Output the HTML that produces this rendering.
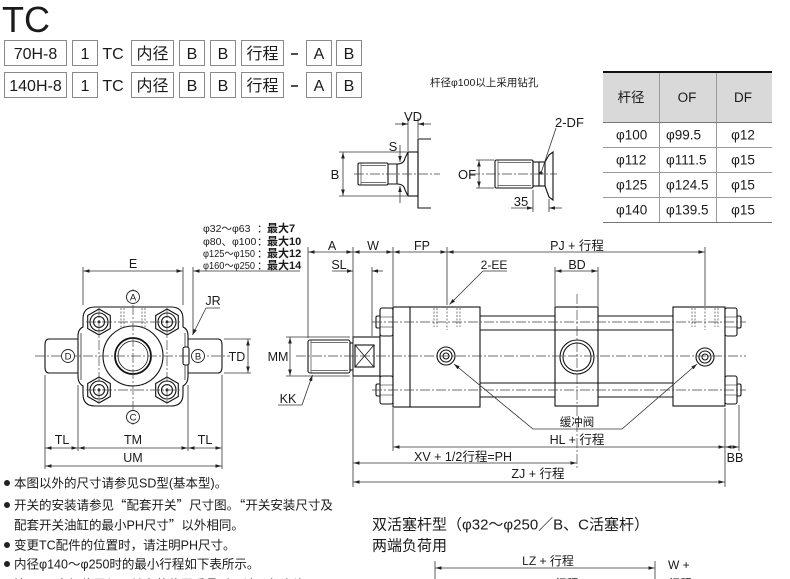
<!DOCTYPE html>
<html><head><meta charset="utf-8"><title>TC</title>
<style>
html,body{margin:0;padding:0;background:#fff;width:790px;height:579px;overflow:hidden}
svg{display:block}
text{font-family:"Liberation Sans","Noto Sans CJK SC",sans-serif;fill:#1a1a1a}
.cj{font-family:"Noto Sans CJK SC",sans-serif}
</style></head><body>
<svg width="790" height="579" viewBox="0 0 790 579" xmlns="http://www.w3.org/2000/svg">
<defs>
<marker id="a" viewBox="0 0 10 6" refX="10" refY="3" markerWidth="7" markerHeight="3.6" orient="auto-start-reverse" markerUnits="userSpaceOnUse"><path d="M0,0L10,3L0,6z" fill="#222"/></marker>
</defs>

<!-- ===== Header ===== -->
<text x="2" y="32" font-size="36">TC</text>
<g fill="#fff" stroke="#8a8a8a" stroke-width="1">
<rect x="4.5" y="40.5" width="62" height="25"/><rect x="72.5" y="40.5" width="25" height="25"/>
<rect x="131.5" y="40.5" width="42" height="25"/><rect x="179.5" y="40.5" width="25" height="25"/>
<rect x="210.5" y="40.5" width="25" height="25"/><rect x="241.5" y="40.5" width="42" height="25"/>
<rect x="306.5" y="40.5" width="25" height="25"/><rect x="336.5" y="40.5" width="25" height="25"/>
<rect x="4.5" y="72.5" width="62" height="25"/><rect x="72.5" y="72.5" width="25" height="25"/>
<rect x="131.5" y="72.5" width="42" height="25"/><rect x="179.5" y="72.5" width="25" height="25"/>
<rect x="210.5" y="72.5" width="25" height="25"/><rect x="241.5" y="72.5" width="42" height="25"/>
<rect x="306.5" y="72.5" width="25" height="25"/><rect x="336.5" y="72.5" width="25" height="25"/>
</g>
<g font-size="16" text-anchor="middle">
<text x="35.5" y="59">70H-8</text><text x="85" y="59">1</text><text x="113" y="59">TC</text>
<text x="152.5" y="59">内径</text><text x="192" y="59">B</text><text x="223" y="59">B</text>
<text x="262.5" y="59">行程</text><text x="319" y="59">A</text><text x="349" y="59">B</text>
<text x="35.5" y="91">140H-8</text><text x="85" y="91">1</text><text x="113" y="91">TC</text>
<text x="152.5" y="91">内径</text><text x="192" y="91">B</text><text x="223" y="91">B</text>
<text x="262.5" y="91">行程</text><text x="319" y="91">A</text><text x="349" y="91">B</text>
</g>
<line x1="291" y1="54" x2="298" y2="54" stroke="#222" stroke-width="1.6"/>
<line x1="291" y1="86" x2="298" y2="86" stroke="#222" stroke-width="1.6"/>

<!-- ===== Table ===== -->
<rect x="603" y="72" width="169" height="50" fill="#d9d9d9"/>
<g stroke="#9a9a9a" stroke-width="1">
<line x1="659.5" y1="73" x2="659.5" y2="222"/><line x1="716.5" y1="73" x2="716.5" y2="222"/>
<line x1="603" y1="122.5" x2="772" y2="122.5" stroke="#777"/>
<line x1="603" y1="147.5" x2="772" y2="147.5"/><line x1="603" y1="172.5" x2="772" y2="172.5"/>
<line x1="603" y1="197.5" x2="772" y2="197.5"/><line x1="603" y1="222.5" x2="772" y2="222.5" stroke="#777"/>
</g>
<line x1="603" y1="72" x2="772" y2="72" stroke="#111" stroke-width="2"/>
<g font-size="13.5">
<text x="631" y="102" text-anchor="middle">杆径</text><text x="687" y="102" text-anchor="middle">OF</text><text x="743" y="102" text-anchor="middle">DF</text>
<text x="616" y="139.5">φ100</text><text x="666" y="139.5">φ99.5</text><text x="743" y="139.5" text-anchor="middle">φ12</text>
<text x="616" y="164.5">φ112</text><text x="666" y="164.5">φ111.5</text><text x="743" y="164.5" text-anchor="middle">φ15</text>
<text x="616" y="189.5">φ125</text><text x="666" y="189.5">φ124.5</text><text x="743" y="189.5" text-anchor="middle">φ15</text>
<text x="616" y="214.5">φ140</text><text x="666" y="214.5">φ139.5</text><text x="743" y="214.5" text-anchor="middle">φ15</text>
</g>

<!-- ===== Top middle small drawings ===== -->
<text x="430" y="86" font-size="10.5">杆径φ100以上采用钻孔</text>
<g stroke="#111" stroke-width="1.1" fill="#fff">
<rect x="358" y="163" width="30" height="22" rx="1.5"/>
<path d="M388,164 H397 Q404,164 405,158 L408,152 M388,184 H397 Q404,184 405,190 L408,196" fill="none"/>
<line x1="397" y1="164" x2="397" y2="184"/>
<rect x="408" y="152" width="10" height="44"/>
<path d="M431,139 H418 V208 H431" fill="none"/>
<rect x="495" y="160" width="38" height="28" rx="1.5"/>
<rect x="533" y="162" width="12" height="24"/>
<line x1="539" y1="162" x2="539" y2="186"/>
<polygon points="545,162 549,155 553,152 553,200 549,197 545,186"/>
</g>
<path d="M361,165.5 H386 M361,182.5 H386 M361,163 V185 M498,162.5 H531 M498,185.5 H531 M498,160 V188" stroke="#444" stroke-width="0.7" fill="none"/>
<circle cx="541" cy="173" r="1.6" fill="#222"/>
<g stroke="#444" stroke-width="0.7" stroke-dasharray="10 2 2 2" fill="none">
<line x1="354" y1="174" x2="440" y2="174"/><line x1="470" y1="174" x2="557" y2="174"/>
</g>
<g stroke="#333" stroke-width="0.8" fill="none">
<line x1="339" y1="152" x2="407" y2="152"/><line x1="339" y1="196" x2="407" y2="196"/>
<line x1="343" y1="152.5" x2="343" y2="195.5" marker-start="url(#a)" marker-end="url(#a)"/>
<line x1="400" y1="145" x2="400" y2="162" marker-end="url(#a)"/>
<line x1="400" y1="203" x2="400" y2="186" marker-end="url(#a)"/>
<line x1="408" y1="118" x2="408" y2="151"/><line x1="418" y1="118" x2="418" y2="138"/>
<line x1="395" y1="124" x2="408" y2="124" marker-end="url(#a)"/>
<line x1="431" y1="124" x2="418" y2="124" marker-end="url(#a)"/>
<line x1="476" y1="160" x2="494" y2="160"/><line x1="476" y1="188" x2="494" y2="188"/>
<line x1="479" y1="160.5" x2="479" y2="187.5" marker-start="url(#a)" marker-end="url(#a)"/>
<line x1="556" y1="128" x2="541.5" y2="171.5"/>
<line x1="533" y1="190" x2="533" y2="212"/><line x1="549" y1="199" x2="549" y2="212"/>
<line x1="511" y1="208" x2="533" y2="208" marker-end="url(#a)"/>
<line x1="562" y1="208" x2="549" y2="208" marker-end="url(#a)"/>
</g>
<g font-size="13">
<text x="335" y="179" text-anchor="middle">B</text>
<text x="393" y="151" text-anchor="middle">S</text>
<text x="413" y="121" text-anchor="middle">VD</text>
<text x="467" y="179" text-anchor="middle">OF</text>
<text x="555" y="127">2-DF</text>
<text x="521" y="206" text-anchor="middle">35</text>
</g>

<!-- ===== Left end view ===== -->
<g font-size="10.5">
<text x="203" y="232">φ32～φ63</text>
<text x="203" y="245">φ80、φ100</text>
<text x="203" y="257" textLength="52" lengthAdjust="spacingAndGlyphs">φ125～φ150</text>
<text x="203" y="269" textLength="52" lengthAdjust="spacingAndGlyphs">φ160～φ250</text>
<text x="257" y="232">：</text><text x="257" y="245">：</text><text x="257" y="257">：</text><text x="257" y="269">：</text>
<g font-weight="bold" font-size="11">
<text x="267" y="232">最大7</text><text x="267" y="245">最大10</text><text x="267" y="257">最大12</text><text x="267" y="269">最大14</text>
</g>
</g>
<g stroke="#111" stroke-width="1.1" fill="#fff">
<path d="M80,339 H49 Q45,339 45,345 V367 Q45,373 49,373 H80 Z"/>
<path d="M186,339 H218 Q222,339 222,345 V367 Q222,373 218,373 H186 Z"/>
<path d="M95,307 H171 Q183,307 183,319 V327 Q188,329 188,336 V377 Q188,383 183,386 V394 Q183,406 171,406 H95 Q83,406 83,394 V386 Q78,383 78,377 V336 Q78,329 83,327 V319 Q83,307 95,307 Z"/>
<line x1="81" y1="333" x2="81" y2="380" stroke-width="0.7"/>
<line x1="185" y1="333" x2="185" y2="380" stroke-width="0.7"/>
<circle cx="133" cy="356" r="30"/>
<circle cx="133" cy="356" r="18" stroke-width="1.8"/>
<circle cx="133" cy="356" r="15" stroke-width="0.8"/>
<polygon points="99,309 110.3,315.5 110.3,328.5 99,335 87.7,328.5 87.7,315.5"/>
<polygon points="167,309 178.3,315.5 178.3,328.5 167,335 155.7,328.5 155.7,315.5"/>
<polygon points="99,377 110.3,383.5 110.3,396.5 99,403 87.7,396.5 87.7,383.5"/>
<polygon points="167,377 178.3,383.5 178.3,396.5 167,403 155.7,396.5 155.7,383.5"/>
<circle cx="99" cy="322" r="9"/><circle cx="167" cy="322" r="9"/><circle cx="99" cy="390" r="9"/><circle cx="167" cy="390" r="9"/>
<circle cx="99" cy="322" r="5.5"/><circle cx="167" cy="322" r="5.5"/><circle cx="99" cy="390" r="5.5"/><circle cx="167" cy="390" r="5.5"/>
<rect x="183" y="347" width="6" height="18" rx="2"/>
</g>
<g fill="#222"><circle cx="99" cy="322" r="1.5"/><circle cx="167" cy="322" r="1.5"/><circle cx="99" cy="390" r="1.5"/><circle cx="167" cy="390" r="1.5"/></g>
<g stroke="#444" stroke-width="0.7" stroke-dasharray="2 1.5" fill="none">
<line x1="121" y1="308" x2="121" y2="328"/><line x1="124" y1="308" x2="124" y2="328"/>
<line x1="142" y1="308" x2="142" y2="328"/><line x1="145" y1="308" x2="145" y2="328"/>
</g>
<g stroke="#444" stroke-width="0.7" stroke-dasharray="10 2 2 2" fill="none">
<line x1="35" y1="356" x2="230" y2="356"/><line x1="133" y1="289" x2="133" y2="425"/>
<line x1="86" y1="322" x2="180" y2="322"/><line x1="86" y1="390" x2="180" y2="390"/>
<line x1="99" y1="308" x2="99" y2="404"/><line x1="167" y1="308" x2="167" y2="404"/>
</g>
<g stroke="#222" stroke-width="0.9" fill="#fff">
<circle cx="133" cy="297" r="6.5"/><circle cx="133" cy="417" r="6.5"/>
<circle cx="68" cy="356" r="6.5"/><circle cx="198" cy="356" r="6.5"/>
</g>
<g font-size="9.5" text-anchor="middle">
<text x="133" y="300.5">A</text><text x="133" y="420.5">C</text><text x="68" y="359.5">D</text><text x="198" y="359.5">B</text>
</g>
<g stroke="#333" stroke-width="0.8" fill="none">
<line x1="83" y1="267" x2="83" y2="305"/><line x1="183" y1="267" x2="183" y2="305"/><line x1="193" y1="267" x2="193" y2="334"/>
<line x1="83.5" y1="271" x2="182.5" y2="271" marker-start="url(#a)" marker-end="url(#a)"/>
<line x1="300" y1="271" x2="193.5" y2="271" marker-end="url(#a)"/>
<path d="M220,308 H206 L192.5,335" marker-end="url(#a)"/>
<line x1="224" y1="339" x2="251" y2="339"/><line x1="224" y1="373" x2="251" y2="373"/>
<line x1="248" y1="339.5" x2="248" y2="372.5" marker-start="url(#a)" marker-end="url(#a)"/>
<line x1="45" y1="375" x2="45" y2="469"/><line x1="78" y1="385" x2="78" y2="451"/>
<line x1="188" y1="385" x2="188" y2="451"/><line x1="222" y1="375" x2="222" y2="469"/>
<line x1="45.5" y1="448" x2="77.5" y2="448" marker-start="url(#a)" marker-end="url(#a)"/>
<line x1="78.5" y1="448" x2="187.5" y2="448" marker-start="url(#a)" marker-end="url(#a)"/>
<line x1="188.5" y1="448" x2="221.5" y2="448" marker-start="url(#a)" marker-end="url(#a)"/>
<line x1="45.5" y1="466" x2="221.5" y2="466" marker-start="url(#a)" marker-end="url(#a)"/>
</g>
<g font-size="12.5" text-anchor="middle">
<text x="133" y="268">E</text>
<text x="213" y="305">JR</text>
<text x="237" y="361">TD</text>
<text x="62" y="444">TL</text><text x="133" y="444">TM</text><text x="205" y="444">TL</text>
<text x="133" y="462">UM</text>
</g>

<!-- ===== Side view ===== -->
<g stroke="#111" stroke-width="1.1" fill="#fff">
<rect x="308" y="340" width="42" height="33" rx="2"/>
<rect x="350" y="343" width="3" height="27"/>
<rect x="353" y="337" width="27" height="39"/>
<rect x="355" y="345" width="19" height="22"/>
<path d="M355,345 L374,367 M374,345 L355,367" fill="none" stroke-width="0.8"/>
<rect x="380" y="334" width="13" height="45"/>
<rect x="376" y="316" width="5" height="12" rx="1.5"/><rect x="380" y="308" width="13" height="28" rx="2"/>
<rect x="376" y="384" width="5" height="12" rx="1.5"/><rect x="380" y="376" width="13" height="28" rx="2"/>
<rect x="393" y="307" width="87" height="100"/>
<line x1="410" y1="307" x2="410" y2="407"/>
<rect x="555" y="307" width="43" height="99"/>
<rect x="673" y="307" width="52" height="99"/>
<rect x="736" y="316" width="5" height="12" rx="1.5"/><rect x="725" y="308" width="12" height="28" rx="2"/>
<rect x="736" y="384" width="5" height="12" rx="1.5"/><rect x="725" y="376" width="12" height="28" rx="2"/>
<circle cx="577" cy="357" r="17"/><circle cx="577" cy="357" r="14"/>
<circle cx="446" cy="356" r="9"/><circle cx="446" cy="356" r="6"/><circle cx="446" cy="356" r="3"/>
<circle cx="705" cy="357" r="9"/><circle cx="705" cy="357" r="6"/><circle cx="705" cy="357" r="3"/>
</g>
<g stroke="#111" stroke-width="1" fill="none">
<path d="M480,316 H555 M480,330 H555 M480,383 H555 M480,397 H555 M598,316 H673 M598,330 H673 M598,383 H673 M598,397 H673 M555,330 H598 M555,383 H598"/>
<path d="M380,317 H393 M380,327 H393 M380,385 H393 M380,395 H393 M725,317 H737 M725,327 H737 M725,385 H737 M725,395 H737" stroke-width="0.6"/>
</g>
<path d="M311,342.5 H348 M311,370.5 H348 M311,340 V373" stroke="#444" stroke-width="0.7" fill="none"/>
<g stroke="#444" stroke-width="0.7" stroke-dasharray="2 1.5" fill="none">
<line x1="434" y1="308" x2="434" y2="327"/><line x1="437" y1="308" x2="437" y2="327"/>
<line x1="457" y1="308" x2="457" y2="327"/><line x1="460" y1="308" x2="460" y2="327"/>
<line x1="692" y1="308" x2="692" y2="327"/><line x1="695" y1="308" x2="695" y2="327"/>
<line x1="715" y1="308" x2="715" y2="327"/><line x1="718" y1="308" x2="718" y2="327"/>
<line x1="447" y1="308" x2="447" y2="330"/><line x1="705" y1="308" x2="705" y2="330"/>
</g>
<g stroke="#444" stroke-width="0.7" stroke-dasharray="10 2 2 2" fill="none">
<line x1="296" y1="356" x2="746" y2="356"/>
<line x1="372" y1="322" x2="746" y2="322"/><line x1="372" y1="390" x2="746" y2="390"/>
<line x1="577" y1="294" x2="577" y2="468"/>
</g>
<g stroke="#333" stroke-width="0.8" fill="none">
<line x1="308" y1="247" x2="308" y2="338"/><line x1="353" y1="247" x2="353" y2="487"/>
<line x1="393" y1="247" x2="393" y2="306"/><line x1="393" y1="408" x2="393" y2="451"/>
<line x1="447" y1="247" x2="447" y2="305"/><line x1="705" y1="247" x2="705" y2="306"/>
<line x1="372" y1="267" x2="372" y2="336"/>
<line x1="555" y1="267" x2="555" y2="306"/><line x1="598" y1="267" x2="598" y2="306"/>
<line x1="725" y1="408" x2="725" y2="487"/><line x1="739" y1="405" x2="739" y2="451"/>
<line x1="286" y1="337" x2="350" y2="337"/><line x1="286" y1="376" x2="350" y2="376"/>
<line x1="290" y1="337.5" x2="290" y2="375.5" marker-start="url(#a)" marker-end="url(#a)"/>
<line x1="308.5" y1="252" x2="352.5" y2="252" marker-start="url(#a)" marker-end="url(#a)"/>
<line x1="353.5" y1="252" x2="392.5" y2="252" marker-start="url(#a)" marker-end="url(#a)"/>
<line x1="393.5" y1="252" x2="446.5" y2="252" marker-start="url(#a)" marker-end="url(#a)"/>
<line x1="447.5" y1="252" x2="704.5" y2="252" marker-start="url(#a)" marker-end="url(#a)"/>
<line x1="332" y1="271" x2="353" y2="271" marker-end="url(#a)"/>
<line x1="383" y1="271" x2="372" y2="271" marker-end="url(#a)"/>
<line x1="555.5" y1="271" x2="597.5" y2="271" marker-start="url(#a)" marker-end="url(#a)"/>
<path d="M507,271 H483 L449.5,304.5" marker-end="url(#a)"/>
<path d="M278,405 H302 L312.5,375" marker-end="url(#a)"/>
<path d="M454,364 L533,429 H622 L697,364" marker-start="url(#a)" marker-end="url(#a)"/>
<line x1="393.5" y1="447" x2="724.5" y2="447" marker-start="url(#a)" marker-end="url(#a)"/>
<line x1="725.5" y1="447" x2="738.5" y2="447" marker-start="url(#a)" marker-end="url(#a)"/>
<line x1="353.5" y1="463" x2="576.5" y2="463" marker-start="url(#a)" marker-end="url(#a)"/>
<line x1="353.5" y1="482" x2="724.5" y2="482" marker-start="url(#a)" marker-end="url(#a)"/>
</g>
<g font-size="12.5" text-anchor="middle">
<text x="332" y="250">A</text><text x="373" y="250">W</text><text x="422" y="250">FP</text>
<text x="577" y="250">PJ + 行程</text>
<text x="339" y="269">SL</text>
<text x="577" y="269">BD</text>
<text x="278" y="361">MM</text>
<text x="288" y="403">KK</text>
<text x="577" y="444">HL + 行程</text>
<text x="463" y="461">XV + 1/2行程=PH</text>
<text x="538" y="478">ZJ + 行程</text>
<text x="735" y="462">BB</text>
</g>
<text x="494" y="269" font-size="12" text-anchor="middle">2-EE</text>
<text x="577" y="426" font-size="11.5" text-anchor="middle">缓冲阀</text>

<!-- ===== Bottom-left notes ===== -->
<g fill="#222"><circle cx="7" cy="483" r="3"/><circle cx="7" cy="505" r="3"/><circle cx="7" cy="545" r="3"/><circle cx="7" cy="564" r="3"/><circle cx="7" cy="584" r="3"/></g>
<g font-size="12.5">
<text x="14" y="487.5">本图以外的尺寸请参见SD型(基本型)。</text>
<text x="14" y="509.5">开关的安装请参见<tspan class="cj">“</tspan>配套开关<tspan class="cj">”</tspan>尺寸图。<tspan class="cj">“</tspan>开关安装尺寸及</text>
<text x="14" y="529.5">配套开关油缸的最小PH尺寸<tspan class="cj">”</tspan>以外相同。</text>
<text x="14" y="549.5">变更TC配件的位置时，请注明PH尺寸。</text>
<text x="14" y="568.5">内径φ140～φ250时的最小行程如下表所示。</text>
<text x="14" y="589">注：TC支架位置与开关安装位置重叠时，请另行咨询。</text>
</g>

<!-- ===== Bottom-right ===== -->
<g font-size="15">
<text x="372" y="529.5">双活塞杆型（φ32～φ250／B、C活塞杆）</text>
<text x="372" y="550.5">两端负荷用</text>
</g>
<g stroke="#333" stroke-width="0.8" fill="none">
<line x1="435" y1="561" x2="435" y2="579"/><line x1="655" y1="561" x2="655" y2="579"/>
<line x1="435.5" y1="568" x2="654.5" y2="568" marker-start="url(#a)" marker-end="url(#a)"/>
</g>
<g font-size="12">
<text x="548" y="565" text-anchor="middle">LZ + 行程</text>
<text x="668" y="569">W +</text>
<text x="668" y="588">行程</text>
<text x="400" y="588">W</text>
<text x="447" y="588">FP</text>
<text x="527" y="588">PJ + 行程</text>
<text x="628" y="588">FP</text>
</g>
</svg>
</body></html>
